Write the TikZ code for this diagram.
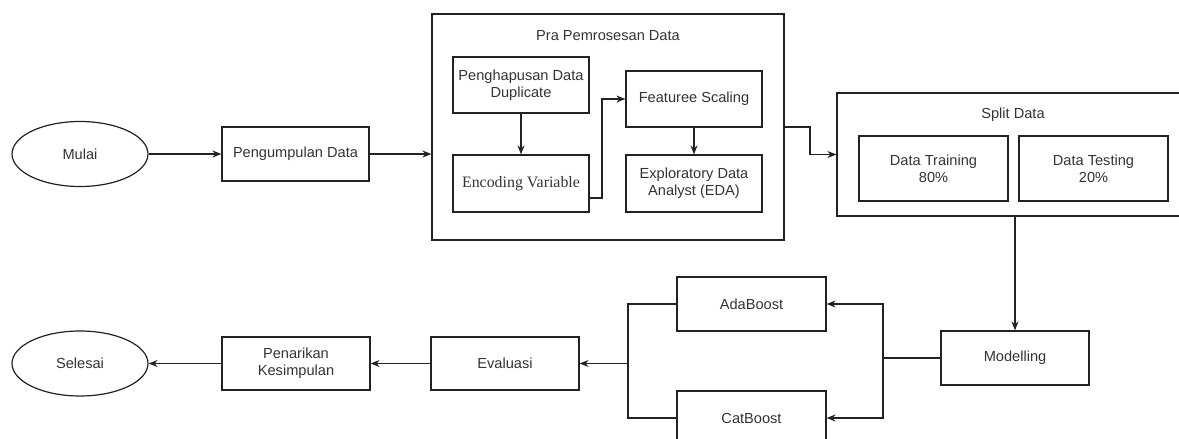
\documentclass[tikz,border=0pt]{standalone}
\usepackage{fontspec}
\setmainfont{Liberation Sans}
\newfontfamily\serifface{Liberation Serif}
\usetikzlibrary{arrows.meta,shapes.geometric}
\definecolor{ink}{HTML}{222222}
\definecolor{txt}{HTML}{333333}
\tikzset{
  box/.style={draw=ink, line width=1.2pt, rectangle, inner sep=0pt, align=center,
    text=txt, font=\fontsize{14.6}{17}\selectfont},
  oval/.style={draw=ink, line width=1.2pt, ellipse, inner sep=0pt, align=center,
    text=txt, font=\fontsize{14.6}{17}\selectfont},
  lbl/.style={inner sep=0pt, text=txt, font=\fontsize{14.6}{17}\selectfont},
  arr/.style={draw=ink, line width=1.2pt, -{Stealth[length=9pt,width=7pt]}},
  ln/.style={draw=ink, line width=1.2pt},
}
\begin{document}
\begin{tikzpicture}[x=1pt,y=-1pt]
\useasboundingbox (0,0) rectangle (1179,439);
\clip (0,0) rectangle (1179,439);
% top row
\node[oval, minimum width=136pt, minimum height=65pt] (mulai) at (80,154) {Mulai};
\node[box, minimum width=147pt, minimum height=54pt] (kumpul) at (295.5,154) {Pengumpulan Data};
\node[box, minimum width=352pt, minimum height=226pt] (pra) at (608,127) {};
\node[lbl] (pratitle) at (608,36) {Pra Pemrosesan Data};
\node[box, minimum width=136pt, minimum height=56pt] (hapus) at (521,85) {Penghapusan Data\\Duplicate};
\node[box, minimum width=136pt, minimum height=57pt, font=\serifface\fontsize{15.9}{18}\selectfont] (encode) at (521,183.5) {Encoding Variable};
\node[box, minimum width=136pt, minimum height=56pt] (feat) at (694,99) {Featuree Scaling};
\node[box, minimum width=136pt, minimum height=57pt] (eda) at (694,183.5) {Exploratory Data\\Analyst (EDA)};
\node[box, minimum width=353pt, minimum height=123pt] (split) at (1013.5,154.5) {};
\node[lbl] (splittitle) at (1013,115) {Split Data};
\node[box, minimum width=149pt, minimum height=65pt] (train) at (933.5,168.5) {Data Training\\80\%};
\node[box, minimum width=149pt, minimum height=65pt] (test) at (1093.5,168.5) {Data Testing\\20\%};
% bottom row
\node[box, minimum width=148pt, minimum height=54pt] (model) at (1015,358) {Modelling};
\node[box, minimum width=149pt, minimum height=54pt] (ada) at (751.5,304) {AdaBoost};
\node[box, minimum width=149pt, minimum height=54pt] (cat) at (751.5,418) {CatBoost};
\node[box, minimum width=148pt, minimum height=53pt] (eval) at (505,363.5) {Evaluasi};
\node[box, minimum width=148pt, minimum height=53pt] (tarik) at (296,363.5) {Penarikan\\Kesimpulan};
\node[oval, minimum width=136pt, minimum height=65pt] (selesai) at (80,363.5) {Selesai};
% bend points
\coordinate (e1) at (589,198);
\coordinate (b1) at (602,198);
\coordinate (b2) at (602,99);
\coordinate (p1) at (784,127);
\coordinate (p2) at (810,127);
\coordinate (p3) at (810,154.5);
\coordinate (m1) at (883,358);
\coordinate (v1) at (628,304);
\coordinate (v2) at (628,363.5);
% connectors
\draw[arr] (mulai.east) -- (kumpul.west);
\draw[arr] (kumpul.east) -- (kumpul.east -| pra.west);
\draw[arr] (hapus.south) -- (encode.north);
\draw[arr] (e1) -- (b1) -- (b2) -- (feat.west);
\draw[arr] (feat.south) -- (eda.north);
\draw[arr] (p1) -- (p2) -- (p3) -- (split.west);
\draw[arr] (model.north |- split.south) -- (model.north);
\draw[ln] (model.west) -- (m1);
\draw[arr] (m1) |- (ada.east);
\draw[arr] (m1) |- (cat.east);
\draw[ln] (ada.west) -- (v1) |- (cat.west);
\draw[arr] (v2) -- (eval.east);
\draw[arr] (eval.west) -- (tarik.east);
\draw[arr] (tarik.west) -- (selesai.east);
\end{tikzpicture}
\end{document}
